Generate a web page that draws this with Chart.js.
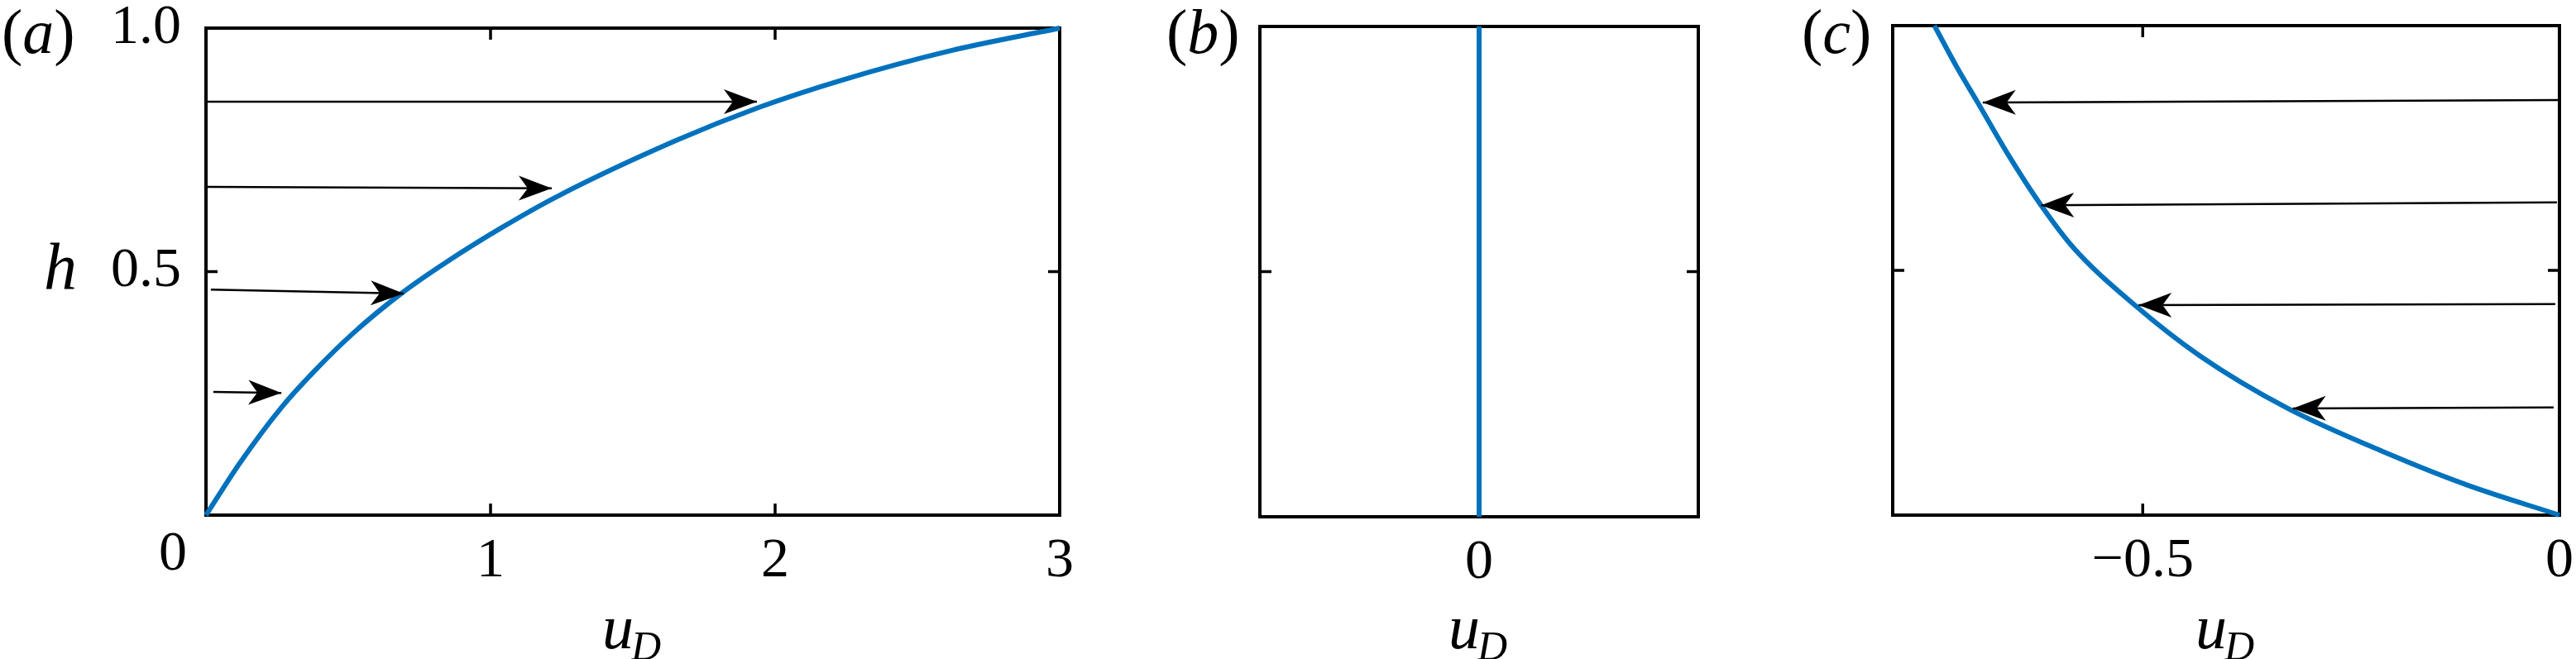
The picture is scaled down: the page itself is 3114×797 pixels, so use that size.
<!DOCTYPE html>
<html>
<head>
<meta charset="utf-8">
<script src="https://cdn.jsdelivr.net/npm/chart.js@4.4.0/dist/chart.umd.min.js"></script>
<style>
  html, body { margin: 0; padding: 0; background: #fff; }
  #wrap { position: relative; width: 3114px; height: 797px; overflow: hidden; }
  canvas { position: absolute; top: 0; }
</style>
</head>
<body>
<div id="wrap">
  <canvas id="chartA" width="1400" height="797" style="left:0px"></canvas>
  <canvas id="chartB" width="720" height="797" style="left:1400px"></canvas>
  <canvas id="chartC" width="994" height="797" style="left:2120px"></canvas>
</div>
<script>
// panel (a) - curve h(u_D) and the arrows pointing onto it
const aCurveU = [0, 0.119, 0.265, 0.378, 0.52, 0.686, 0.846, 1.041, 1.233, 1.651, 1.942, 2.233, 2.619, 3.0]
const aCurveH = [0, 0.107, 0.221, 0.294, 0.375, 0.455, 0.520, 0.591, 0.654, 0.769, 0.837, 0.893, 0.954, 1.0]
const aArrowFromU = [0, 0, 0.017, 0.026]
const aArrowFromH = [0.849, 0.674, 0.463, 0.253]
const aArrowToU = [1.936, 1.215, 0.695, 0.265]
const aArrowToH = [0.849, 0.671, 0.455, 0.251]
const aXTicks = [1, 2, 3]
const aXLabels = ['1', '2', '3']
const aYTicks = [0.5, 1.0]
const aYLabels = ['0.5', '1.0']

// panel (b) - vertical line at u_D = 0
const bLineU = [0, 0]
const bLineH = [0, 1]
const bXTicks = [0]
const bXLabels = ['0']
const bYTicks = [0.5]

// panel (c) - curve going to negative u_D, arrows pointing left
const cCurveU = [-0.750, -0.722, -0.698, -0.662, -0.622, -0.583, -0.511, -0.432, -0.326, -0.205, -0.110, 0]
const cCurveH = [1.000, 0.912, 0.843, 0.738, 0.633, 0.546, 0.431, 0.326, 0.218, 0.125, 0.061, 0]
const cArrowFromU = [0, -0.003, -0.005, -0.007]
const cArrowFromH = [0.848, 0.639, 0.431, 0.220]
const cArrowToU = [-0.692, -0.622, -0.505, -0.320]
const cArrowToH = [0.843, 0.633, 0.429, 0.218]
const cXTicks = [-0.5, 0]
const cXLabels = ['\u22120.5', '0']
const cYTicks = [0.5]

const SERIF = '"Liberation Serif", "Times New Roman", serif'
const BLUE = '#0072BD'

Chart.defaults.font.family = SERIF
Chart.defaults.color = '#000'

function pts(us, hs) {
  return us.map((u, i) => ({ x: u, y: hs[i] }))
}

// box round the plot plus the small inward ticks
const framePlugin = {
  id: 'frame',
  beforeDatasetsDraw(chart, args, opts) {
    const ctx = chart.ctx
    const a = chart.chartArea
    const sx = chart.scales.x, sy = chart.scales.y
    ctx.save()
    ctx.strokeStyle = '#000'
    ctx.lineWidth = 3.5
    ctx.beginPath()
    for (const v of opts.xTicks) {
      const x = sx.getPixelForValue(v)
      ctx.moveTo(x, a.bottom); ctx.lineTo(x, a.bottom - 14)
      ctx.moveTo(x, a.top); ctx.lineTo(x, a.top + 14)
    }
    for (const v of opts.yTicks) {
      const y = sy.getPixelForValue(v)
      ctx.moveTo(a.left, y); ctx.lineTo(a.left + 14, y)
      ctx.moveTo(a.right, y); ctx.lineTo(a.right - 14, y)
    }
    ctx.stroke()
    ctx.lineWidth = 4
    ctx.strokeRect(a.left, a.top, a.right - a.left, a.bottom - a.top)
    ctx.restore()
  }
}

// barbed arrow heads at the end of every arrow dataset
const arrowPlugin = {
  id: 'arrowHeads',
  afterDatasetsDraw(chart) {
    const ctx = chart.ctx
    chart.data.datasets.forEach((ds, i) => {
      if (!ds.arrowHead) return
      const p = chart.getDatasetMeta(i).data
      const p0 = p[p.length - 2], p1 = p[p.length - 1]
      const ang = Math.atan2(p1.y - p0.y, p1.x - p0.x)
      ctx.save()
      ctx.translate(p1.x, p1.y)
      ctx.rotate(ang)
      ctx.fillStyle = '#000'
      ctx.beginPath()
      ctx.moveTo(0, 0)
      ctx.lineTo(-40, -15)
      ctx.lineTo(-29, 0)
      ctx.lineTo(-40, 15)
      ctx.closePath()
      ctx.fill()
      ctx.restore()
    })
  }
}

// panel letter, axis titles and the shared corner zero
const textPlugin = {
  id: 'texts',
  afterDraw(chart, args, o) {
    const ctx = chart.ctx
    const a = chart.chartArea
    ctx.save()
    ctx.fillStyle = '#000'
    ctx.textBaseline = 'alphabetic'
    ctx.textAlign = 'left'

    let x = o.panelX
    const parts = [['(', '76px ' + SERIF], [o.panel, 'italic 76px ' + SERIF], [')', '76px ' + SERIF]]
    for (const [t, f] of parts) {
      ctx.font = f
      ctx.fillText(t, x, 64)
      x += ctx.measureText(t).width
    }

    ctx.font = 'italic 76px ' + SERIF
    const wu = ctx.measureText('u').width
    ctx.font = 'italic 50px ' + SERIF
    const wd = ctx.measureText('D').width
    const ux = (a.left + a.right) / 2 - (wu + wd) / 2
    ctx.font = 'italic 76px ' + SERIF
    ctx.fillText('u', ux, 784)
    ctx.font = 'italic 50px ' + SERIF
    ctx.fillText('D', ux + wu - 3, 798)

    if (o.yTitle) {
      ctx.font = 'italic 80px ' + SERIF
      ctx.textAlign = 'center'
      ctx.fillText(o.yTitle, 73, 349)
    }
    if (o.cornerZero) {
      ctx.font = '68px ' + SERIF
      ctx.textAlign = 'center'
      ctx.textBaseline = 'middle'
      ctx.fillText('0', a.left - 40, a.bottom + 48)
    }
    ctx.restore()
  }
}

function arrowSets(fu, fh, tu, th) {
  return fu.map((u, i) => ({
    data: [{ x: u, y: fh[i] }, { x: tu[i], y: th[i] }],
    showLine: true,
    borderColor: '#000',
    borderWidth: 2.5,
    pointRadius: 0,
    tension: 0,
    order: 1,
    clip: false,
    arrowHead: true
  }))
}

function makeChart(id, cfg) {
  const tickFont = { size: 68, family: SERIF, lineHeight: 1 }
  return new Chart(document.getElementById(id), {
    type: 'scatter',
    data: { datasets: cfg.datasets },
    options: {
      responsive: false,
      animation: false,
      devicePixelRatio: 1,
      layout: { autoPadding: false, padding: { top: cfg.top, right: cfg.right, left: 0, bottom: 0 } },
      plugins: {
        legend: { display: false },
        tooltip: { enabled: false },
        frame: { xTicks: cfg.xTicks, yTicks: cfg.yTicks },
        texts: cfg.texts
      },
      scales: {
        x: {
          type: 'linear',
          min: cfg.xMin, max: cfg.xMax,
          grid: { display: false },
          border: { display: false },
          afterBuildTicks: s => { s.ticks = cfg.xTicks.map(v => ({ value: v })) },
          afterFit: s => { s.height = cfg.bottomH; s.paddingLeft = 0; s.paddingRight = 0 },
          ticks: {
            font: tickFont, color: '#000', padding: 14, maxRotation: 0, autoSkip: false,
            callback: (v, i) => cfg.xLabels[i]
          }
        },
        y: {
          type: 'linear',
          min: 0, max: 1,
          grid: { display: false },
          border: { display: false },
          afterBuildTicks: s => { s.ticks = cfg.yTicks.map(v => ({ value: v })) },
          afterFit: s => { s.width = cfg.leftW; s.paddingTop = 0; s.paddingBottom = 0 },
          ticks: {
            display: !!cfg.yLabels, font: tickFont, color: '#000', padding: 22, autoSkip: false,
            callback: (v, i) => cfg.yLabels ? cfg.yLabels[i] : ''
          }
        }
      }
    },
    plugins: [framePlugin, arrowPlugin, textPlugin]
  })
}

const curveStyle = { borderColor: BLUE, borderWidth: 6, pointRadius: 0, showLine: true, order: 2, clip: false }

makeChart('chartA', {
  datasets: [Object.assign({ data: pts(aCurveU, aCurveH), cubicInterpolationMode: 'monotone' }, curveStyle)]
    .concat(arrowSets(aArrowFromU, aArrowFromH, aArrowToU, aArrowToH)),
  xMin: 0, xMax: 3,
  xTicks: aXTicks, xLabels: aXLabels, yTicks: aYTicks, yLabels: aYLabels,
  top: 34, right: 1400 - 1281, leftW: 249, bottomH: 797 - 623,
  texts: { panel: 'a', panelX: 2, yTitle: 'h', cornerZero: true }
})

makeChart('chartB', {
  datasets: [Object.assign({ data: pts(bLineU, bLineH), tension: 0 }, curveStyle)],
  xMin: -1, xMax: 1,
  xTicks: bXTicks, xLabels: bXLabels, yTicks: bYTicks, yLabels: null,
  top: 32, right: 720 - 2053 + 1400, leftW: 1523 - 1400, bottomH: 797 - 625,
  texts: { panel: 'b', panelX: 10 }
})

makeChart('chartC', {
  datasets: [Object.assign({ data: pts(cCurveU, cCurveH), cubicInterpolationMode: 'monotone' }, curveStyle)]
    .concat(arrowSets(cArrowFromU, cArrowFromH, cArrowToU, cArrowToH)),
  xMin: -0.8, xMax: 0,
  xTicks: cXTicks, xLabels: cXLabels, yTicks: cYTicks, yLabels: null,
  top: 31, right: 994 - 3094 + 2120, leftW: 2288 - 2120, bottomH: 797 - 623,
  texts: { panel: 'c', panelX: 58 }
})
</script>
</body>
</html>
